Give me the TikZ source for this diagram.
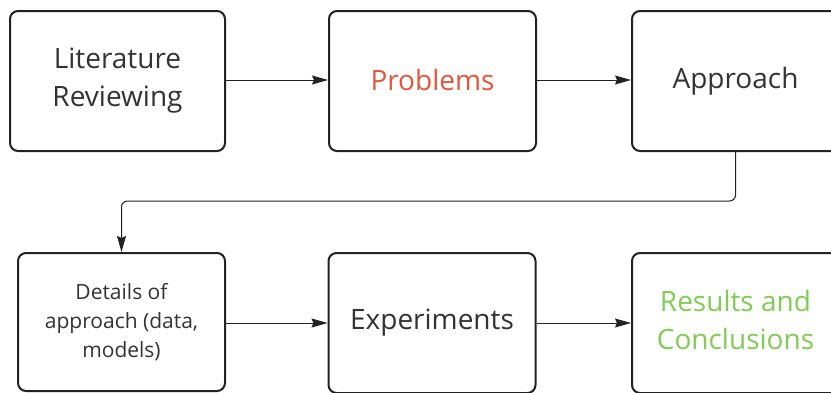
\documentclass[tikz,border=0pt]{standalone}
\usepackage{fontspec}
\setmainfont{Open Sans}
\usetikzlibrary{arrows.meta}
\definecolor{ink}{HTML}{333333}
\definecolor{frame}{HTML}{222222}
\definecolor{probred}{HTML}{E8553C}
\definecolor{resgreen}{HTML}{80CC55}
\tikzset{
  box/.style={draw=frame, line width=2pt, rounded corners=8pt, fill=white,
    minimum width=207pt, minimum height=140pt, align=center,
    text=ink, font=\fontsize{28}{38}\selectfont, inner sep=0pt},
  smalltext/.style={font=\fontsize{21}{29}\selectfont},
  link/.style={draw=frame, line width=1pt,
    -{Stealth[length=16pt, width=9pt, inset=2pt]}}
}
\begin{document}
\begin{tikzpicture}[x=1pt, y=-1pt]
\useasboundingbox (0,0) rectangle (831,392);
\clip (0,0) rectangle (831,392);
% top row
\node[box, minimum width=215pt] (lit) at (117.5,81) {Literature\\Reviewing};
\node[box, text=probred] (prob) at (432.5,81) {\raisebox{2.5pt}{Problems}};
\node[box] (appr) at (735.5,81) {Approach};
% bottom row
\node[box, smalltext, minimum height=138pt] (det) at (121.5,322) {Details of\\approach (data,\\models)};
\node[box] (exp) at (432,323) {\raisebox{-1pt}{Experiments}};
\node[box, text=resgreen] (res) at (735.5,323) {\raisebox{2pt}{\begin{tabular}{@{}c@{}}Results and\\[-0.3pt]Conclusions\end{tabular}}};
% connectors
\draw[link] (lit.east |- 0,80) -- (prob.west |- 0,80);
\draw[link] (prob.east |- 0,80) -- (appr.west |- 0,80);
\draw[link, rounded corners=6pt] (appr.south) |- ([yshift=51pt]det.north) -- (det.north);
\draw[link] (det.east |- 0,323) -- (exp.west |- 0,323);
\draw[link] (exp.east |- 0,323) -- (res.west |- 0,323);
\end{tikzpicture}
\end{document}
